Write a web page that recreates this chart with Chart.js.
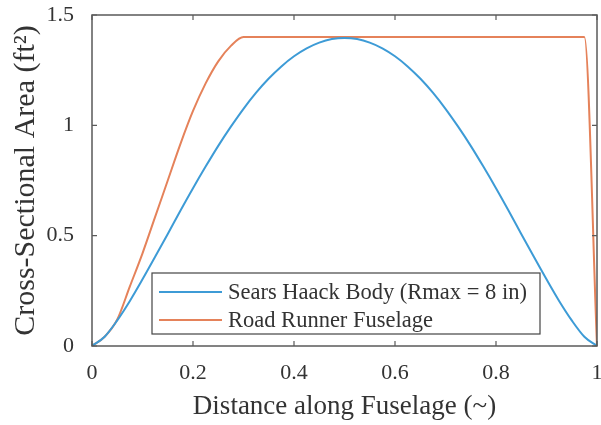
<!DOCTYPE html>
<html>
<head>
<meta charset="utf-8">
<script src="https://cdn.jsdelivr.net/npm/chart.js@4"></script>
<style>
  html, body { margin: 0; padding: 0; background: #fff; }
  #wrap { width: 601px; height: 425px; }
</style>
</head>
<body>
<div id="wrap"><canvas id="myChart" width="601" height="425"></canvas></div>
<script>
// Sears Haack body (step 0.025)
const searsX = [0, 0.025, 0.05, 0.075, 0.1, 0.125, 0.15, 0.175, 0.2, 0.225, 0.25, 0.275, 0.3, 0.325, 0.35, 0.375, 0.4, 0.425, 0.45, 0.475, 0.5,
  0.525, 0.55, 0.575, 0.6, 0.625, 0.65, 0.675, 0.7, 0.725, 0.75, 0.775, 0.8, 0.825, 0.85, 0.875, 0.9, 0.925, 0.95, 0.975, 1];
const searsY = [0, 0.042, 0.116, 0.204, 0.302, 0.404, 0.508, 0.613, 0.715, 0.813, 0.907, 0.994, 1.075, 1.148, 1.212, 1.267, 1.313, 1.349, 1.375, 1.391, 1.396,
  1.391, 1.375, 1.349, 1.313, 1.267, 1.212, 1.148, 1.075, 0.994, 0.907, 0.813, 0.715, 0.613, 0.508, 0.404, 0.302, 0.204, 0.116, 0.042, 0];

// Road Runner fuselage
const roadX = [0, 0.025, 0.05, 0.075, 0.1, 0.125, 0.15, 0.175, 0.2, 0.225, 0.25, 0.275, 0.3, 0.5, 0.75, 0.975, 1];
const roadY = [0, 0.042, 0.12, 0.27, 0.42, 0.585, 0.75, 0.915, 1.065, 1.19, 1.29, 1.36, 1.4, 1.4, 1.4, 1.4, 0];

const xTicks = [0, 0.2, 0.4, 0.6, 0.8, 1];
const yTicks = [0, 0.5, 1, 1.5];
const legendLabels = ["Sears Haack Body (Rmax = 8 in)", "Road Runner Fuselage"];

const blue = "#3d9bd6";
const orange = "#e5825a";
const axisGray = "#5a5a5a";
const textGray = "#333";
const serif = "'Liberation Serif', 'Times New Roman', serif";

const toPoints = (xs, ys) => xs.map((x, i) => ({ x: x, y: ys[i] }));

// box + inward ticks + legend drawn inside the axes, MATLAB style
const boxPlugin = {
  id: "box",
  afterDatasetsDraw(chart) {
    const { ctx, chartArea: a, scales } = chart;
    ctx.save();
    ctx.strokeStyle = axisGray;
    ctx.lineWidth = 1.5;
    ctx.strokeRect(a.left, a.top, a.right - a.left, a.bottom - a.top);
    ctx.lineWidth = 1.2;
    ctx.beginPath();
    xTicks.forEach(v => {
      const px = scales.x.getPixelForValue(v);
      ctx.moveTo(px, a.bottom); ctx.lineTo(px, a.bottom - 5);
      ctx.moveTo(px, a.top); ctx.lineTo(px, a.top + 5);
    });
    yTicks.forEach(v => {
      const py = scales.y.getPixelForValue(v);
      ctx.moveTo(a.left, py); ctx.lineTo(a.left + 5, py);
      ctx.moveTo(a.right, py); ctx.lineTo(a.right - 5, py);
    });
    ctx.stroke();

    // legend
    const lx = 152, ly = 273, lw = 388, lh = 61;
    ctx.fillStyle = "#fff";
    ctx.fillRect(lx, ly, lw, lh);
    ctx.strokeStyle = "#444";
    ctx.lineWidth = 1.2;
    ctx.strokeRect(lx, ly, lw, lh);
    const colors = [blue, orange];
    const rows = [292, 320];
    ctx.font = "22.5px " + serif;
    ctx.textBaseline = "middle";
    legendLabels.forEach((t, i) => {
      ctx.strokeStyle = colors[i];
      ctx.lineWidth = 2;
      ctx.beginPath();
      ctx.moveTo(159, rows[i]); ctx.lineTo(222, rows[i]);
      ctx.stroke();
      ctx.fillStyle = textGray;
      ctx.fillText(t, 228, rows[i] + 1);
    });
    ctx.restore();
  }
};

const ctx = document.getElementById("myChart");

new Chart(ctx, {
  type: "line",
  data: {
    datasets: [
      {
        label: legendLabels[0],
        data: toPoints(searsX, searsY),
        borderColor: blue,
        borderWidth: 2,
        pointRadius: 0,
        cubicInterpolationMode: "monotone",
      },
      {
        label: legendLabels[1],
        data: toPoints(roadX, roadY),
        borderColor: orange,
        borderWidth: 2,
        pointRadius: 0,
        cubicInterpolationMode: "monotone",
      },
    ],
  },
  options: {
    responsive: false,
    animation: false,
    events: [],
    layout: { padding: { top: 15, right: 4, left: 0, bottom: 0 } },
    plugins: { legend: { display: false }, tooltip: { enabled: false } },
    scales: {
      x: {
        type: "linear",
        min: 0,
        max: 1,
        afterBuildTicks: s => { s.ticks = xTicks.map(v => ({ value: v })); },
        afterFit: s => { s.height = 79; s.paddingLeft = 0; s.paddingRight = 0; },
        grid: { display: false },
        border: { display: false },
        ticks: { color: textGray, font: { family: serif, size: 22 }, padding: 6, maxRotation: 0, callback: v => String(v) },
        title: {
          display: true,
          text: "Distance along Fuselage (~)",
          color: textGray,
          font: { family: serif, size: 27 },
          padding: { top: 0, bottom: 2 },
        },
      },
      y: {
        type: "linear",
        min: 0,
        max: 1.5,
        afterBuildTicks: s => { s.ticks = yTicks.map(v => ({ value: v })); },
        afterFit: s => { s.width = 92; s.paddingTop = 0; s.paddingBottom = 0; },
        grid: { display: false },
        border: { display: false },
        ticks: { color: textGray, font: { family: serif, size: 22 }, padding: 10, callback: v => String(v) },
        title: {
          display: true,
          text: "Cross-Sectional Area (ft\u00b2)",
          color: textGray,
          font: { family: serif, size: 30 },
          padding: { top: 8, bottom: 0 },
        },
      },
    },
  },
  plugins: [boxPlugin],
});
</script>
</body>
</html>
